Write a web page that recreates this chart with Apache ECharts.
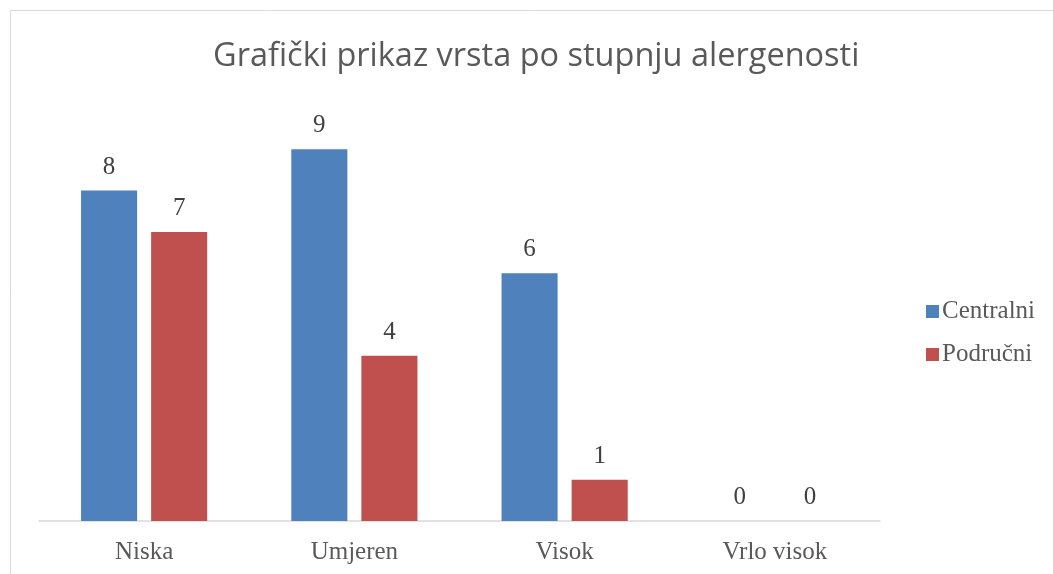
<!DOCTYPE html>
<html>
<head>
<meta charset="utf-8">
<script src="https://cdn.jsdelivr.net/npm/echarts@6/dist/echarts.min.js"></script>
<style>
  html, body { margin: 0; padding: 0; background: #fff; }
  #chart { width: 1053px; height: 574px; }
</style>
</head>
<body>
<div id="chart"></div>
<script>
const categories = ['Niska', 'Umjeren', 'Visok', 'Vrlo visok'];
const centralni = [8, 9, 6, 0];
const podrucni = [7, 4, 1, 0];

const serif = '"Liberation Serif", "DejaVu Serif", serif';

const chart = echarts.init(document.getElementById('chart'), null, { renderer: 'canvas' });

const labelStyle = {
  show: true,
  position: 'top',
  distance: 11,
  fontFamily: serif,
  fontSize: 25,
  color: '#404040'
};

chart.setOption({
  animation: false,
  backgroundColor: '#fff',
  graphic: [{
    type: 'rect',
    shape: { x: 10.5, y: 10.5, width: 1060, height: 600 },
    style: { fill: 'none', stroke: '#d9d9d9', lineWidth: 1 },
    silent: true
  }],
  title: {
    text: 'Grafički prikaz vrsta po stupnju alergenosti',
    left: 208,
    top: 35,
    textStyle: {
      fontFamily: '"Open Sans", "Noto Sans", sans-serif',
      fontWeight: 'normal',
      fontSize: 32.5,
      color: '#595959'
    }
  },
  legend: {
    orient: 'vertical',
    left: 921,
    top: 294,
    itemWidth: 13,
    itemHeight: 13,
    itemGap: 18,
    icon: 'rect',
    textStyle: { fontFamily: serif, fontSize: 25, color: '#595959', padding: [0, 0, 0, -2] },
    data: ['Centralni', 'Područni']
  },
  grid: { left: 39, right: 173, top: 108, bottom: 53 },
  xAxis: {
    type: 'category',
    data: categories,
    axisLine: { lineStyle: { color: '#d9d9d9', width: 1.5 } },
    axisTick: { show: false },
    axisLabel: { fontFamily: serif, fontSize: 25, color: '#595959', margin: 19 }
  },
  yAxis: {
    type: 'value',
    min: 0,
    max: 10,
    show: false,
    splitLine: { show: false }
  },
  series: [
    {
      name: 'Centralni',
      type: 'bar',
      data: centralni,
      barGap: '25%',
      barCategoryGap: '40%',
      itemStyle: { color: '#4f81bd' },
      label: labelStyle
    },
    {
      name: 'Područni',
      type: 'bar',
      data: podrucni,
      itemStyle: { color: '#c0504d' },
      label: labelStyle
    }
  ]
});
</script>
</body>
</html>
